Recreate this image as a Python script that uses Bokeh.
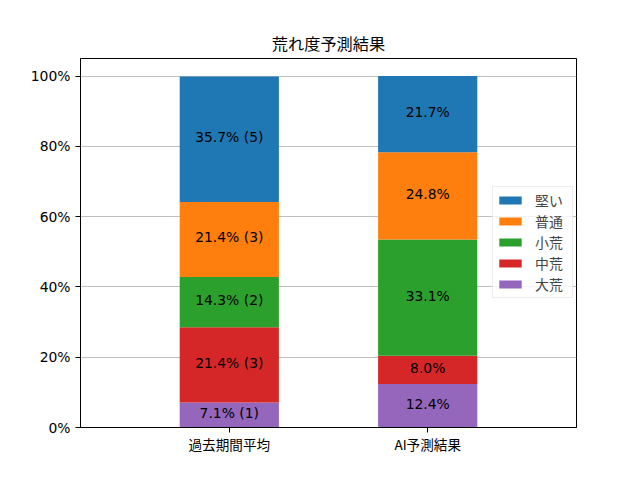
from bokeh.plotting import figure
from bokeh.models import Range1d, FixedTicker, Legend, LegendItem, ColumnDataSource
from bokeh.core.properties import value
from bokeh.embed import file_html
from bokeh.resources import INLINE

categories = ["過去期間平均", "AI予測結果"]
levels = ["大荒", "中荒", "小荒", "普通", "堅い"]
colors = ["#9467bd", "#d62728", "#2ca02c", "#ff7f0e", "#1f77b4"]
past_pct = [7.1, 21.4, 14.3, 21.4, 35.7]
past_cnt = [1, 3, 2, 3, 5]
ai_pct = [12.4, 8.0, 33.1, 24.8, 21.7]
y_ticks = [0, 20, 40, 60, 80, 100]

JP = "Noto Sans CJK JP"
LAT = "DejaVu Sans"

xs = list(range(len(categories)))
data = {"x": xs}
for i, lv in enumerate(levels):
    data[lv] = [past_pct[i], ai_pct[i]]
src = ColumnDataSource(data)

p = figure(width=624, height=464, output_backend="svg", toolbar_location=None,
           x_range=Range1d(-0.75, 1.75), y_range=Range1d(0, 105),
           min_border_left=80, min_border_right=48, min_border_top=58, min_border_bottom=37)

p.title.text = "荒れ度予測結果"
p.title.align = "center"
p.title.text_font = JP
p.title.text_font_size = "16.2px"
p.title.text_font_style = "normal"
p.title.text_color = "black"
p.title.standoff = 7

rs = p.vbar_stack(levels, x="x", width=0.5, source=src, color=colors, line_color=None)

# labels
lx, ly, lt = [], [], []
for ci, vals in enumerate([past_pct, ai_pct]):
    cum = 0
    for i, v in enumerate(vals):
        lx.append(xs[ci])
        ly.append(cum + v / 2)
        if ci == 0:
            lt.append(f"{v:.1f}% ({past_cnt[i]})")
        else:
            lt.append(f"{v:.1f}%")
        cum += v
p.text(x=lx, y=ly, text=lt, text_align="center", text_baseline="middle", y_offset=-2,
       text_font=value(LAT), text_font_size="13.9px", text_color="black")

p.xgrid.visible = False
p.ygrid.grid_line_color = "#b0b0b0"
p.ygrid.grid_line_width = 0.8
p.ygrid.ticker = FixedTicker(ticks=y_ticks)

p.yaxis.ticker = FixedTicker(ticks=y_ticks)
p.yaxis.major_label_overrides = {t: f"{t}%" for t in y_ticks}
p.xaxis.ticker = FixedTicker(ticks=xs)
p.xaxis.major_label_overrides = {x: c for x, c in zip(xs, categories)}
for ax in (p.xaxis, p.yaxis):
    ax.minor_tick_line_color = None
    ax.major_tick_in = 0
    ax.major_tick_out = 5
    ax.axis_line_color = "black"
    ax.major_tick_line_color = "black"
    ax.major_label_text_color = "black"
    ax.major_label_text_font_size = "13.9px"
p.yaxis.major_label_standoff = 5
p.xaxis.major_label_standoff = 1
p.yaxis.major_label_text_font = LAT
p.xaxis.major_label_text_font = JP
p.xaxis.major_label_text_font_size = "13.6px"
p.outline_line_color = "black"
p.outline_line_alpha = 1
p.outline_line_width = 1

items = [LegendItem(label=levels[i], renderers=[rs[i]]) for i in reversed(range(len(levels)))]
leg = Legend(items=items, location=(412, 129))
leg.label_text_font = JP
leg.label_text_font_size = "13.9px"
leg.glyph_width = 28
leg.glyph_height = 10
leg.label_height = 20
leg.label_width = 34
leg.spacing = 1
leg.padding = 3
leg.margin = 0
leg.border_line_color = "#d9d9d9"
leg.background_fill_alpha = 0.8
leg.label_standoff = 11
p.add_layout(leg, "center")

open("out.html", "w").write(file_html(p, INLINE))
